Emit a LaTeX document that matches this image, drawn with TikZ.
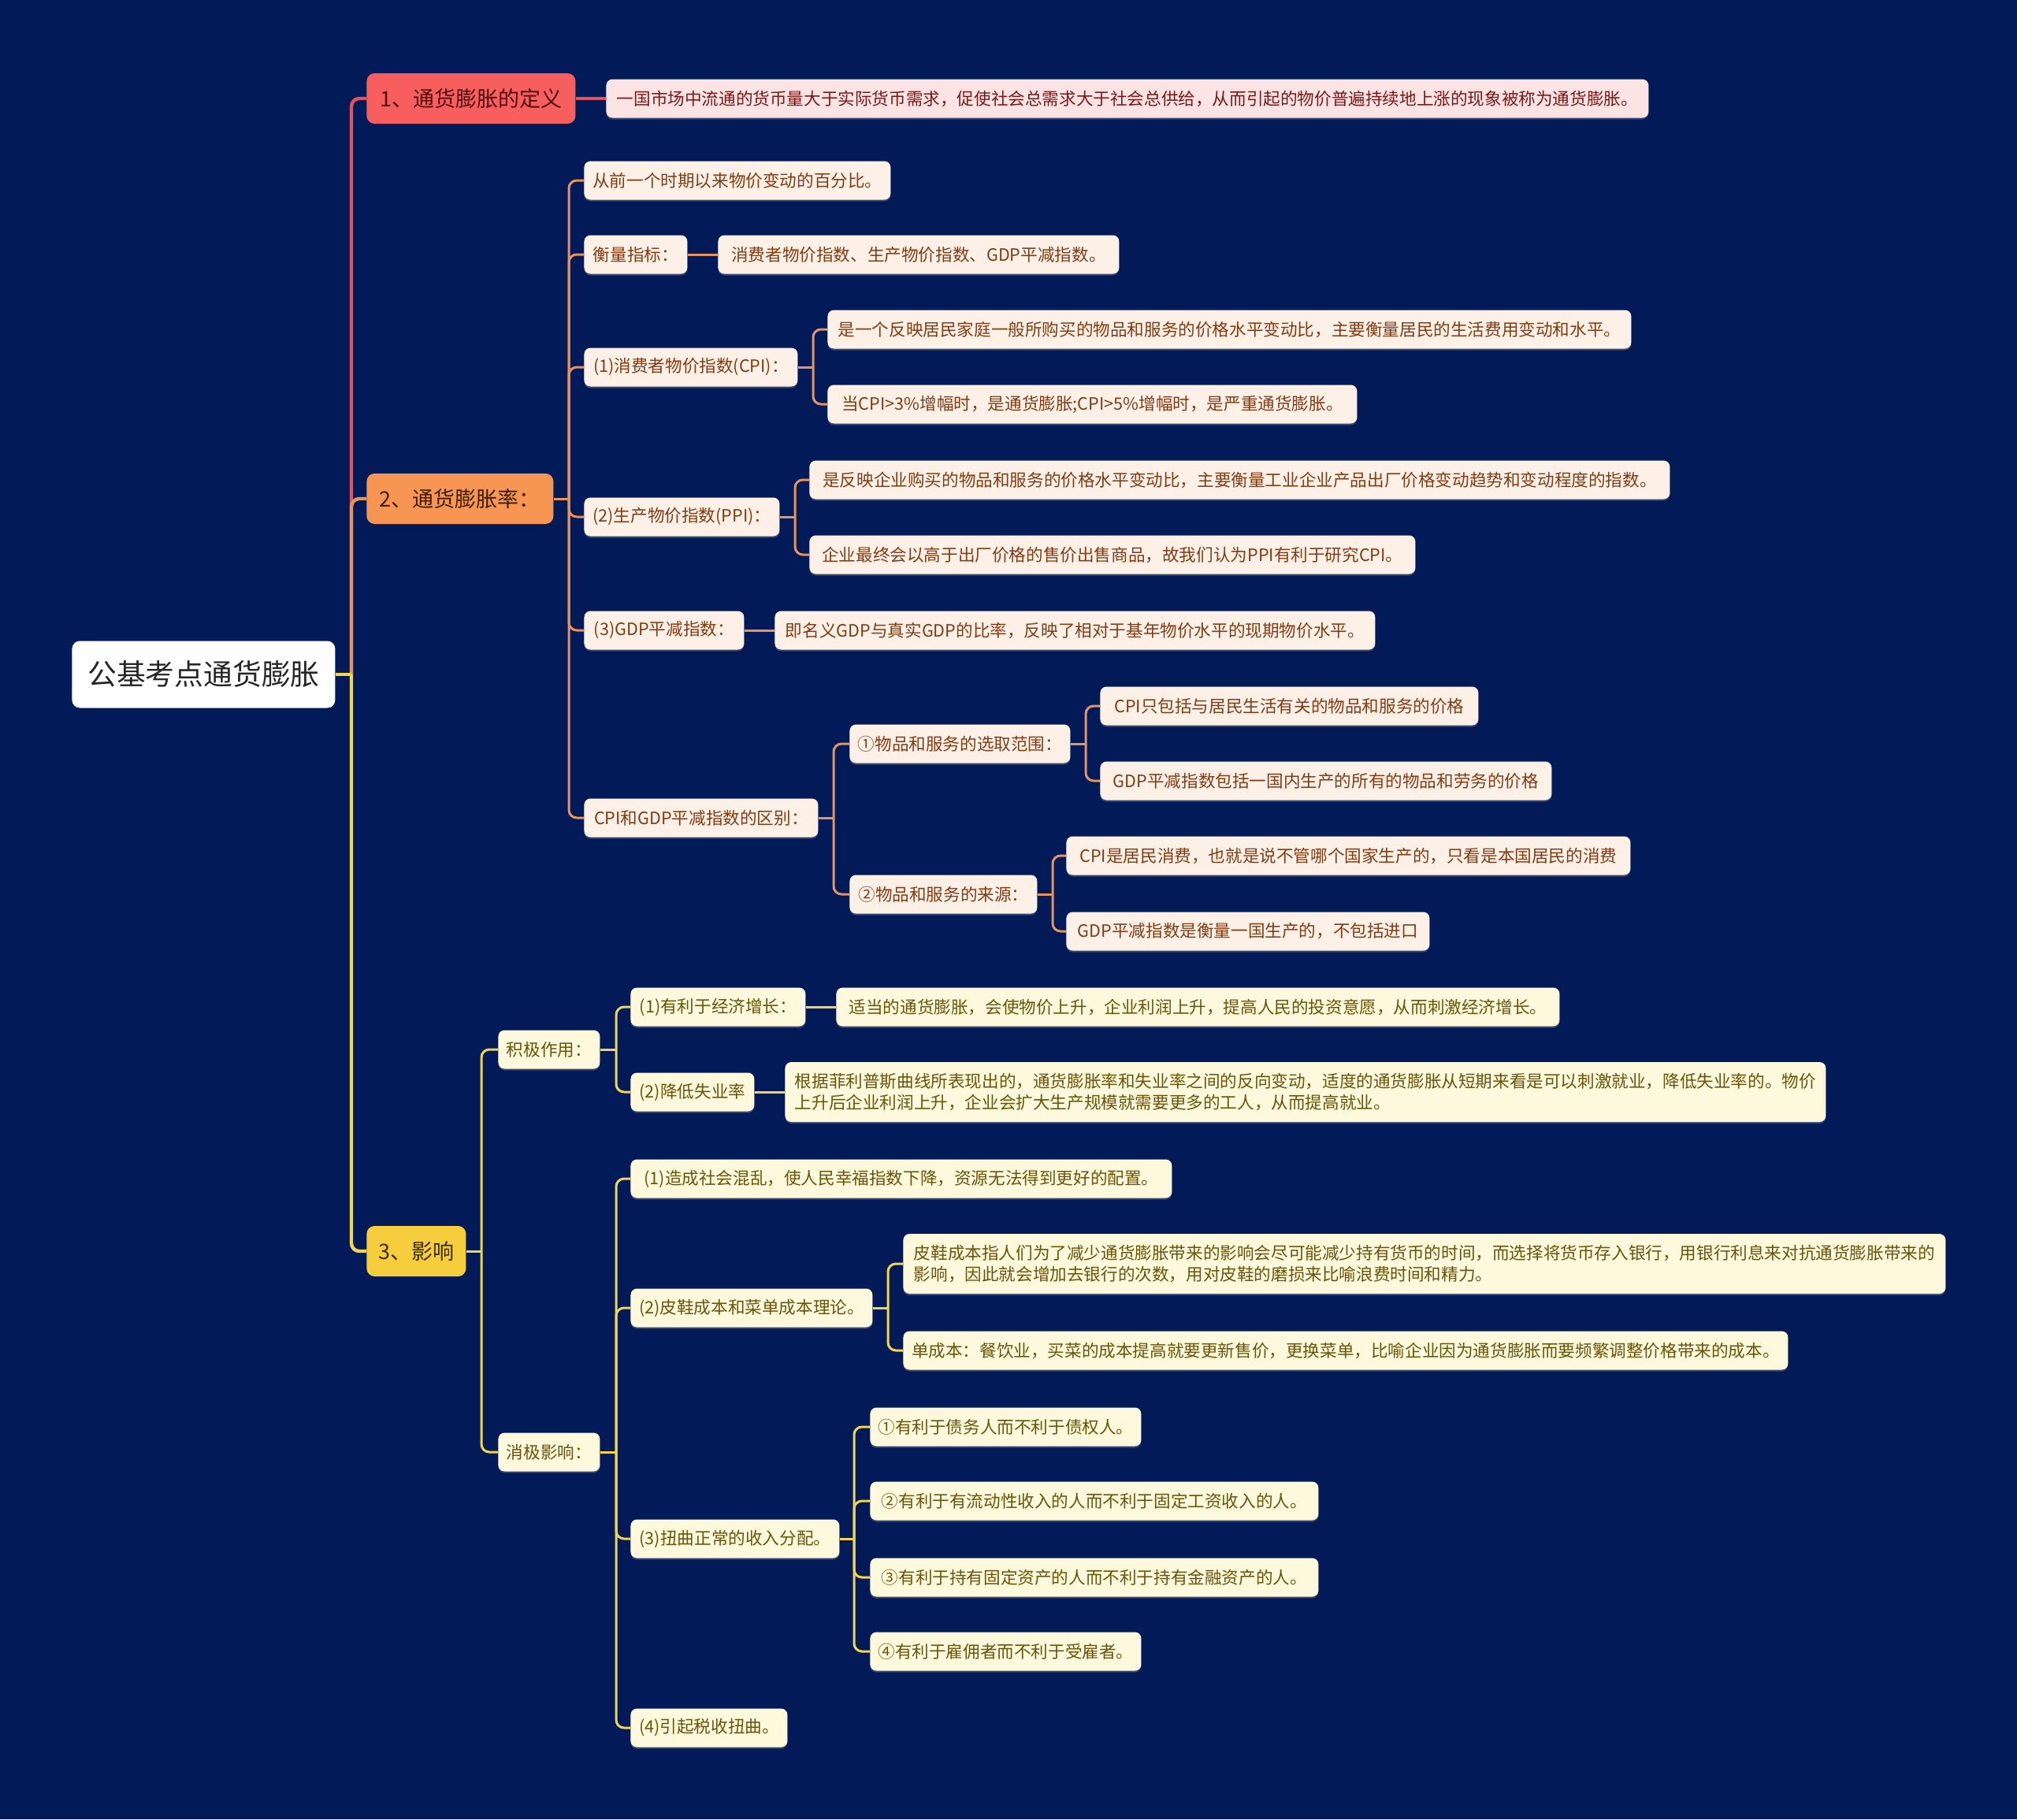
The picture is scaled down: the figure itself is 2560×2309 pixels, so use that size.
\documentclass[tikz,border=0pt]{standalone}
\usepackage{fontspec}
\setmainfont{Noto Sans CJK SC}
\usetikzlibrary{shadows}
\definecolor{cBg}{RGB}{2,27,88}
\definecolor{cRedN}{RGB}{246,95,94}
\definecolor{cOrN}{RGB}{247,149,83}
\definecolor{cYeN}{RGB}{246,205,60}
\definecolor{cRedNT}{RGB}{80,15,15}
\definecolor{cOrNT}{RGB}{60,30,10}
\definecolor{cYeNT}{RGB}{60,45,0}
\definecolor{cRedLeaf}{RGB}{253,228,228}
\definecolor{cOrLeaf}{RGB}{253,241,231}
\definecolor{cYeLeaf}{RGB}{254,248,220}
\definecolor{cRedTxt}{RGB}{120,25,25}
\definecolor{cOrTxt}{RGB}{130,60,20}
\definecolor{cYeTxt}{RGB}{105,85,10}
\definecolor{cRedLine}{RGB}{229,82,90}
\definecolor{cOrLine}{RGB}{232,146,92}
\definecolor{cYeLine}{RGB}{242,212,78}
\begin{document}
\begin{tikzpicture}[x=0.5pt,y=-0.5pt,
  W/.style={minimum width={#1*0.5pt}},
  box/.style={rounded corners=4pt, inner xsep=3pt, inner ysep=0pt, anchor=west,
    minimum height=24.5pt, font=\fontsize{10.8pt}{13.8pt}\selectfont, align=left,
    drop shadow={shadow xshift=0pt, shadow yshift=-1pt, opacity=0.45}},
  redleaf/.style={box, fill=cRedLeaf, text=cRedTxt},
  orleaf/.style={box, fill=cOrLeaf, text=cOrTxt},
  yeleaf/.style={box, fill=cYeLeaf, text=cYeTxt},
  tall/.style={minimum height=38pt},
  lone/.style={rounded corners=5pt, inner xsep=0pt, inner ysep=0pt, anchor=west,
    minimum height=32pt, font=\fontsize{13.5pt}{16pt}\selectfont},
  rootbox/.style={rounded corners=5pt, inner xsep=0pt, inner ysep=0pt, anchor=west,
    minimum height=42.5pt, fill=white, text=black!85, font=\fontsize{18.4pt}{22pt}\selectfont},
  lr/.style={draw=cRedLine, line width=2.2pt, rounded corners=5pt},
  loT/.style={draw=cOrLine, line width=2.2pt, rounded corners=5pt},
  lyT/.style={draw=cYeLine, line width=2.2pt, rounded corners=5pt},
  lo/.style={draw=cOrLine, line width=1.5pt, rounded corners=5pt},
  ly/.style={draw=cYeLine, line width=1.5pt, rounded corners=5pt},
]
\fill[cBg] (0,0) rectangle (2560,2309);
\useasboundingbox (0,0) rectangle (2560,2309);

% root and main branches
\node[rootbox, W=334] (root) at (91,856) {公基考点通货膨胀};
\node[lone, fill=cRedN, text=cRedNT, W=265] (n1) at (465,125) {1、通货膨胀的定义};
\node[lone, fill=cOrN, text=cOrNT, W=237] (n2) at (465,633) {2、通货膨胀率：};
\node[lone, fill=cYeN, text=cYeNT, W=126] (n3) at (465,1588) {3、影响};

% branch 1
\node[redleaf, W=1323] (L1) at (769,125) {一国市场中流通的货币量大于实际货币需求，促使社会总需求大于社会总供给，从而引起的物价普遍持续地上涨的现象被称为通货膨胀。};

% branch 2
\node[orleaf, W=389] (a) at (741,229) {从前一个时期以来物价变动的百分比。};
\node[orleaf, W=131] (b) at (741,323) {衡量指标：};
\node[orleaf, W=509] (b1) at (911,323) {消费者物价指数、生产物价指数、GDP平减指数。};
\node[orleaf, W=271] (c) at (741,466) {(1)消费者物价指数(CPI)：};
\node[orleaf, W=1020] (c1) at (1050,418) {是一个反映居民家庭一般所购买的物品和服务的价格水平变动比，主要衡量居民的生活费用变动和水平。};
\node[orleaf, W=672] (c2) at (1050,513) {当CPI>3\%增幅时，是通货膨胀;CPI>5\%增幅时，是严重通货膨胀。};
\node[orleaf, W=248] (d) at (741,656) {(2)生产物价指数(PPI)：};
\node[orleaf, W=1092] (d1) at (1027,609) {是反映企业购买的物品和服务的价格水平变动比，主要衡量工业企业产品出厂价格变动趋势和变动程度的指数。};
\node[orleaf, W=769] (d2) at (1027,704) {企业最终会以高于出厂价格的售价出售商品，故我们认为PPI有利于研究CPI。};
\node[orleaf, W=203] (e) at (741,800) {(3)GDP平减指数：};
\node[orleaf, W=762] (e1) at (983,800) {即名义GDP与真实GDP的比率，反映了相对于基年物价水平的现期物价水平。};
\node[orleaf, W=297] (f) at (741,1038) {CPI和GDP平减指数的区别：};
\node[orleaf, W=280] (f1) at (1078,944) {①物品和服务的选取范围：};
\node[orleaf, W=480] (f1a) at (1396,896) {CPI只包括与居民生活有关的物品和服务的价格};
\node[orleaf, W=573] (f1b) at (1396,991) {GDP平减指数包括一国内生产的所有的物品和劳务的价格};
\node[orleaf, W=238] (f2) at (1078,1135) {②物品和服务的来源：};
\node[orleaf, W=716] (f2a) at (1353,1086) {CPI是居民消费，也就是说不管哪个国家生产的，只看是本国居民的消费};
\node[orleaf, W=461] (f2b) at (1353,1182) {GDP平减指数是衡量一国生产的，不包括进口};

% branch 3
\node[yeleaf, W=129] (g) at (632,1332) {积极作用：};
\node[yeleaf, W=222] (g1) at (800,1278) {(1)有利于经济增长：};
\node[yeleaf, W=918] (g1a) at (1061,1278) {适当的通货膨胀，会使物价上升，企业利润上升，提高人民的投资意愿，从而刺激经济增长。};
\node[yeleaf, W=157] (g2) at (800,1386) {(2)降低失业率};
\node[yeleaf, tall, W=1321] (g2a) at (996,1386) {根据菲利普斯曲线所表现出的，通货膨胀率和失业率之间的反向变动，适度的通货膨胀从短期来看是可以刺激就业，降低失业率的。物价\\上升后企业利润上升，企业会扩大生产规模就需要更多的工人，从而提高就业。};
\node[yeleaf, W=129] (h) at (632,1843) {消极影响：};
\node[yeleaf, W=687] (h1) at (800,1496) {(1)造成社会混乱，使人民幸福指数下降，资源无法得到更好的配置。};
\node[yeleaf, W=307] (h2) at (800,1660) {(2)皮鞋成本和菜单成本理论。};
\node[yeleaf, tall, W=1323] (h2a) at (1146,1604) {皮鞋成本指人们为了减少通货膨胀带来的影响会尽可能减少持有货币的时间，而选择将货币存入银行，用银行利息来对抗通货膨胀带来的\\影响，因此就会增加去银行的次数，用对皮鞋的磨损来比喻浪费时间和精力。};
\node[yeleaf, W=1123] (h2b) at (1146,1714) {单成本：餐饮业，买菜的成本提高就要更新售价，更换菜单，比喻企业因为通货膨胀而要频繁调整价格带来的成本。};
\node[yeleaf, W=265] (h3) at (800,1953) {(3)扭曲正常的收入分配。};
\node[yeleaf, W=344] (h3a) at (1104,1811) {①有利于债务人而不利于债权人。};
\node[yeleaf, W=569] (h3b) at (1104,1905) {②有利于有流动性收入的人而不利于固定工资收入的人。};
\node[yeleaf, W=569] (h3c) at (1104,2002) {③有利于持有固定资产的人而不利于持有金融资产的人。};
\node[yeleaf, W=344] (h3d) at (1104,2096) {④有利于雇佣者而不利于受雇者。};
\node[yeleaf, W=199] (h4) at (800,2193) {(4)引起税收扭曲。};

% junction coordinates
\coordinate (rJ) at (446,856);
\coordinate (n2J) at (722,633);
\coordinate (cJ) at (1032,466);
\coordinate (dJ) at (1009,656);
\coordinate (fJ) at (1058,1038);
\coordinate (f1J) at (1378,944);
\coordinate (f2J) at (1336,1135);
\coordinate (n3J) at (611,1588);
\coordinate (gJ) at (782,1332);
\coordinate (hJ) at (782,1843);
\coordinate (h2J) at (1127,1660);
\coordinate (h3J) at (1084,1953);

% root connectors
\draw[lr] (rJ) |- (n1.west);
\draw[loT] (rJ) |- (n2.west);
\draw[lyT] (root.east) -- (rJ);
\draw[lyT] (rJ) |- (n3.west);
\draw[lr] (n1.east) -- (L1.west);

% branch 2
\draw[lo] (n2.east) -- (n2J);
\foreach \t in {a,b,c,d,e,f} {\draw[lo] (n2J) |- (\t.west);}
\draw[lo] (b.east) -- (b1.west);
\draw[lo] (c.east) -- (cJ);
\draw[lo] (cJ) |- (c1.west);
\draw[lo] (cJ) |- (c2.west);
\draw[lo] (d.east) -- (dJ);
\draw[lo] (dJ) |- (d1.west);
\draw[lo] (dJ) |- (d2.west);
\draw[lo] (e.east) -- (e1.west);
\draw[lo] (f.east) -- (fJ);
\draw[lo] (fJ) |- (f1.west);
\draw[lo] (fJ) |- (f2.west);
\draw[lo] (f1.east) -- (f1J);
\draw[lo] (f1J) |- (f1a.west);
\draw[lo] (f1J) |- (f1b.west);
\draw[lo] (f2.east) -- (f2J);
\draw[lo] (f2J) |- (f2a.west);
\draw[lo] (f2J) |- (f2b.west);

% branch 3
\draw[ly] (n3.east) -- (n3J);
\draw[ly] (n3J) |- (g.west);
\draw[ly] (n3J) |- (h.west);
\draw[ly] (g.east) -- (gJ);
\draw[ly] (gJ) |- (g1.west);
\draw[ly] (gJ) |- (g2.west);
\draw[ly] (g1.east) -- (g1a.west);
\draw[ly] (g2.east) -- (g2a.west);
\draw[ly] (h.east) -- (hJ);
\foreach \t in {h1,h2,h3,h4} {\draw[ly] (hJ) |- (\t.west);}
\draw[ly] (h2.east) -- (h2J);
\draw[ly] (h2J) |- (h2a.west);
\draw[ly] (h2J) |- (h2b.west);
\draw[ly] (h3.east) -- (h3J);
\foreach \t in {h3a,h3b,h3c,h3d} {\draw[ly] (h3J) |- (\t.west);}
\end{tikzpicture}
\end{document}
